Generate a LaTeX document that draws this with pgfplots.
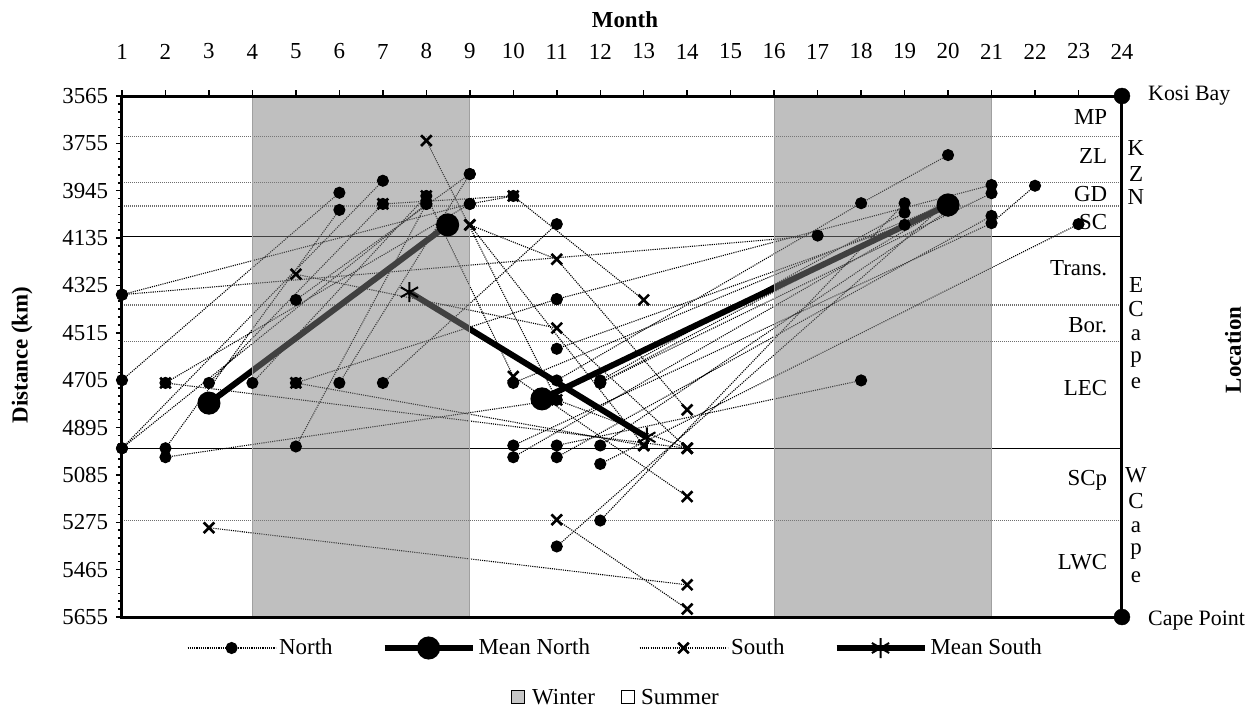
\documentclass[border=0pt]{standalone}
\usepackage{pgfplots}
\pgfplotsset{compat=1.18}
\usepackage{fontspec}
\setmainfont{Liberation Serif}
\definecolor{shade}{RGB}{128,128,128}
\definecolor{edge}{RGB}{160,160,160}
\definecolor{bnd}{RGB}{110,110,110}
\begin{document}
\fontsize{23}{27}\selectfont
\begin{tikzpicture}
\begin{axis}[
  at={(0,0)}, anchor=south west,
  scale only axis, width=1000bp, height=521bp,
  xmin=1, xmax=24, ymin=3565, ymax=5655, y dir=reverse,
  axis on top, clip=false,
  xtick={1,...,24}, xtick pos=right, xticklabel pos=right,
  ytick={3565,3755,...,5655}, ytick pos=left, yticklabel pos=left,
  minor y tick num=5,
  tick align=outside,
  major tick length=6bp, minor tick length=4bp,
  every tick/.style={black, line width=1.5bp},
  axis line style={line width=3bp},
  tick label style={font=\fontsize{23}{27}\selectfont},
  xticklabel style={yshift=23bp},
  /pgf/number format/assume math mode=true,
  /pgf/number format/1000 sep={},
  unbounded coords=jump,
  legend columns=4,
  legend style={at={(0.494,-0.0595)}, anchor=center, draw=none, fill=none,
    font=\fontsize{23}{27}\selectfont,
    nodes={inner xsep=3bp},
    /tikz/every even column/.append style={column sep=46bp}},
  legend cell align=left,
  legend image code/.code={\draw[mark repeat=2,mark phase=2,#1] plot coordinates {(0bp,0bp) (44bp,0bp) (88bp,0bp)};},
  north/.style={black, line width=1.1bp, dash pattern=on 1.1bp off 1.1bp, mark=*, mark size=5.5bp, mark options={solid, fill=black}},
  south/.style={black, line width=1.1bp, dash pattern=on 1.1bp off 1.1bp, mark=x, mark size=7.5bp, mark options={solid, line width=2.6bp}},
  meanN/.style={black, line width=6bp, mark=*, mark size=8.5bp, mark options={solid}},
  meanS/.style={black, line width=6bp, mark=asterisk, mark size=10bp, mark options={solid, line width=2bp}},
]
% boundaries between regions
\addplot[forget plot, bnd, line width=1.4bp, dash pattern=on 1bp off 1bp] coordinates {(1,3728) (24,3728) (nan,nan) (1,3911) (24,3911) (nan,nan) (1,4007) (24,4007) (nan,nan) (1,4404) (24,4404) (nan,nan) (1,4550) (24,4550) (nan,nan) (1,5269) (24,5269)};
\addplot[forget plot, black, line width=1bp] coordinates {(1,4127) (24,4127) (nan,nan) (1,4978) (24,4978)};
% North tracks
\addplot[north] coordinates {
(1,4362) (9,3998) (10,3966) (nan,nan)
(1,4705) (6,3953) (nan,nan)
(1,4978) (7,3905) (nan,nan)
(1,4978) (8,3998) (nan,nan)
(2,4978) (6,4022) (nan,nan)
(2,5014) (11,4784) (nan,nan)
(3,4716) (7,3998) (nan,nan)
(4,4716) (8,3966) (nan,nan)
(5,4383) (9,3878) (nan,nan)
(5,4971) (8,3998) (nan,nan)
(2,4716) (9,3998) (nan,nan)
(5,4716) (11,4380) (nan,nan)
(6,4716) (9,3878) (nan,nan)
(7,4716) (11,4079) (nan,nan)
(1,4362) (17,4125) (nan,nan)
(10,4716) (20,3995) (nan,nan)
(10,4967) (21,4075) (22,3925) (nan,nan)
(10,5014) (20,4005) (nan,nan)
(11,4706) (18,3995) (20,3802) (nan,nan)
(11,4967) (18,4706) (nan,nan)
(11,5014) (21,4046) (nan,nan)
(11,4579) (19,4082) (nan,nan)
(11,4380) (21,3922) (nan,nan)
(12,4706) (19,4033) (nan,nan)
(12,4716) (20,3985) (nan,nan)
(12,4716) (21,3955) (nan,nan)
(12,4967) (20,4025) (nan,nan)
(12,5041) (23,4079) (nan,nan)
(12,5268) (19,3995) (nan,nan)
(11,5372) (20,3989)
};
\addlegendentry{North}
% Mean North
\addplot[meanN] coordinates {(3,4797) (8.49,4082) (nan,nan) (10.66,4780) (20,4002)};
\addlegendentry{Mean North}
% South tracks
\addplot[south] coordinates {
(2,4716) (14,4978) (nan,nan)
(5,4716) (13,4967) (nan,nan)
(5,4280) (11,4496) (14,4978) (nan,nan)
(3,5297) (14,5526) (nan,nan)
(11,5265) (14,5623) (nan,nan)
(8,3744) (11,4784) (14,4978) (nan,nan)
(9,4082) (11,4220) (14,4824) (nan,nan)
(7,3998) (10,3966) (13,4383) (nan,nan)
(8,3966) (10,4690) (14,5172) (nan,nan)
(9,4082) (13,4967)
};
\addlegendentry{South}
% Mean South
\addplot[meanS] coordinates {(7.61,4352) (13.07,4934)};
\addlegendentry{Mean South}
% winter shading (semi-transparent overlay)
\addplot[forget plot, fill=shade, fill opacity=0.5, draw=edge, line width=1bp] coordinates {(4,3565) (4,5655) (9,5655) (9,3565)} -- cycle;
\addplot[forget plot, fill=shade, fill opacity=0.5, draw=edge, line width=1bp] coordinates {(16,3565) (16,5655) (21,5655) (21,3565)} -- cycle;
% end points of the coast
\addplot[forget plot, only marks, mark=*, mark size=8bp, black] coordinates {(24,3565) (24,5655)};
% region labels
\node[anchor=east] at (axis cs:23.84,3649) {MP};
\node[anchor=east] at (axis cs:23.84,3806) {ZL};
\node[anchor=east] at (axis cs:23.84,3958) {GD};
\node[anchor=east] at (axis cs:23.84,4070) {SC};
\node[anchor=east] at (axis cs:23.84,4255) {Trans.};
\node[anchor=east] at (axis cs:23.84,4483) {Bor.};
\node[anchor=east] at (axis cs:23.84,4736) {LEC};
\node[anchor=east] at (axis cs:23.84,5105) {SCp};
\node[anchor=east] at (axis cs:23.84,5434) {LWC};
\end{axis}
% titles and outer labels (absolute bp: X = px-122, Y = 617-py)
\node[font=\bfseries] at (503bp,597bp) {Month};
\node[font=\bfseries, rotate=90] at (-100bp,262bp) {Distance (km)};
\node[font=\bfseries, rotate=90] at (1111bp,267bp) {Location};
\node[anchor=west, inner sep=0pt, font=\fontsize{22}{26}\selectfont] at (1026bp,521bp) {Kosi Bay};
\node[anchor=west, inner sep=0pt, font=\fontsize{22}{26}\selectfont] at (1026bp,-4bp) {Cape Point};
\foreach \t/\yy in {K/148,Z/174,N/197,E/285,C/309,a/335,p/360,e/383,W/475,C/501,a/527,p/552,e/577}
  \node at (1014bp,617bp-\yy bp) {\t};
% season legend
\draw[fill=edge!60, line width=0.8bp] (389bp,-86.5bp) rectangle (402bp,-73.5bp);
\node[anchor=west, inner sep=0pt] at (410bp,-80bp) {Winter};
\draw[fill=white, line width=0.8bp] (499bp,-86.5bp) rectangle (512bp,-73.5bp);
\node[anchor=west, inner sep=0pt] at (519bp,-80bp) {Summer};
\pgfresetboundingbox
\path[use as bounding box] (-122bp,-96bp) rectangle (1126bp,617bp);
\end{tikzpicture}
\end{document}
